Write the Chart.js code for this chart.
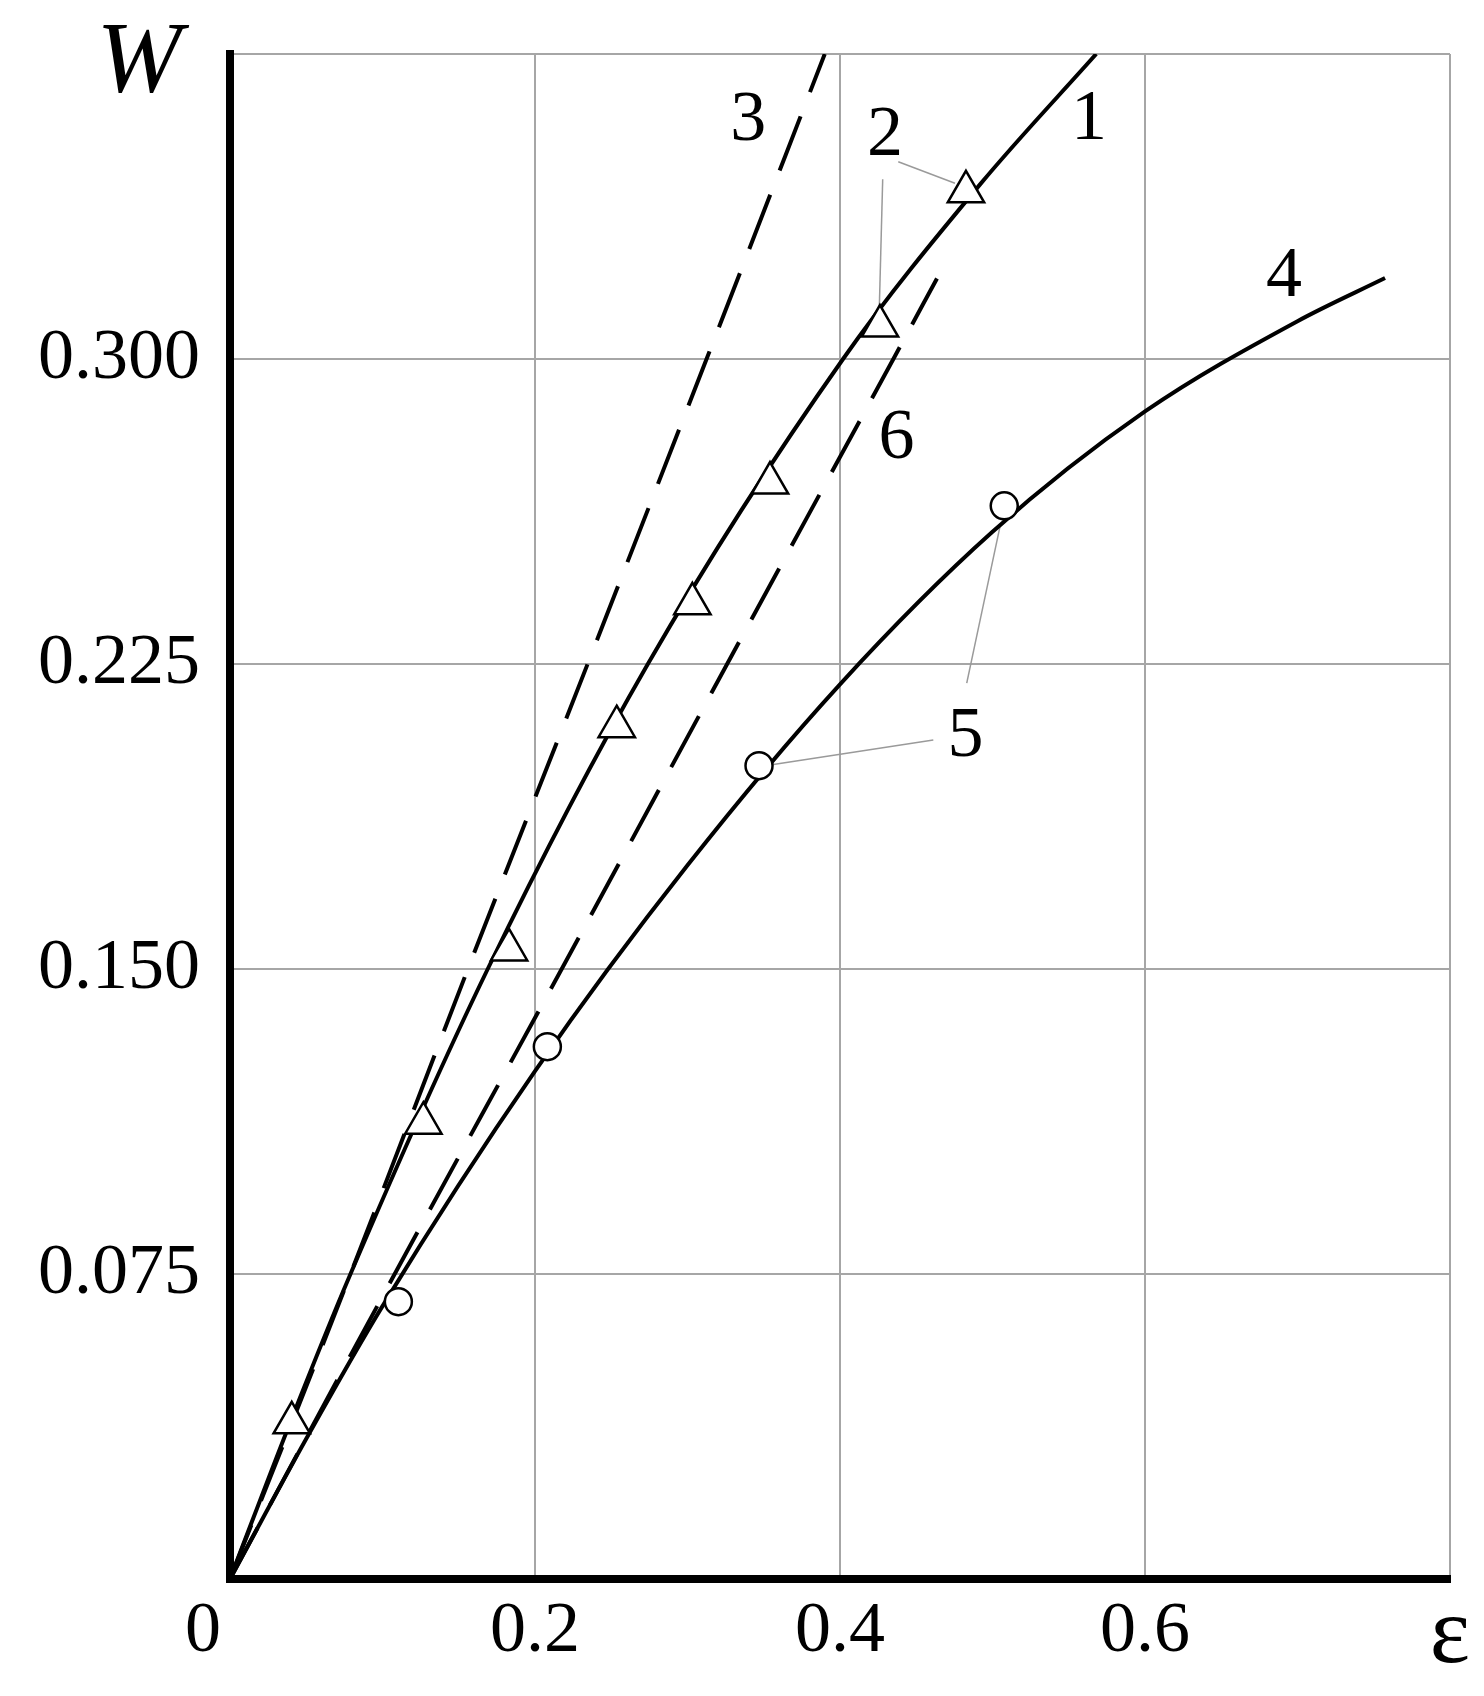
<!DOCTYPE html>
<html><head><meta charset="utf-8">
<script src="https://cdn.jsdelivr.net/npm/chart.js@4.4.1/dist/chart.umd.min.js"></script>
<style>html,body{margin:0;padding:0;background:#fff}canvas{display:block}</style>
</head><body>
<canvas id="c" width="1484" height="1696"></canvas>
<script>
// ---- axis ticks ----
const xTicks = [0, 0.2, 0.4, 0.6, 0.8];
const xTickLabels = ['0', '0.2', '0.4', '0.6', 'ε'];
const yTicks = [0, 0.075, 0.150, 0.225, 0.300, 0.375];
const yTickLabels = ['', '0.075', '0.150', '0.225', '0.300', ''];

// ---- curve 1 (solid) ----
const eps1 = [0, 0.040, 0.079, 0.169, 0.274, 0.402, 0.492, 0.568];
const W1   = [0, 0.039, 0.075, 0.150, 0.225, 0.300, 0.343, 0.375];
// ---- points 2 (triangles) ----
const eps2 = [0.0405, 0.1268, 0.183, 0.2536, 0.3032, 0.3541, 0.4262, 0.4826];
const W2   = [0.0384, 0.1121, 0.1547, 0.2096, 0.2398, 0.2695, 0.3081, 0.3411];
// ---- curve 3 (dashed) ----
const eps3 = [0, 0.079, 0.156, 0.2345, 0.3125, 0.390];
const W3   = [0, 0.075, 0.150, 0.225, 0.300, 0.375];
// ---- curve 4 (solid) ----
const eps4 = [0, 0.05, 0.1, 0.2, 0.3, 0.4, 0.5, 0.6, 0.7, 0.7574];
const W4   = [0, 0.0345, 0.0671, 0.1249, 0.1755, 0.2200, 0.2575, 0.2871, 0.3093, 0.3199];
// ---- points 5 (circles) ----
const eps5 = [0.1104, 0.2081, 0.3469, 0.5077];
const W5   = [0.0682, 0.1309, 0.2000, 0.2639];
// ---- curve 6 (dashed) ----
const eps6 = [0, 0.108, 0.2175, 0.326, 0.435, 0.4636];
const W6   = [0, 0.075, 0.150, 0.225, 0.300, 0.3198];

// ---- leader lines (label -> marker) ----
const leadA_eps = [0.4382, 0.4754], leadA_W = [0.3485, 0.3432];
const leadB_eps = [0.4280, 0.4258], leadB_W = [0.3442, 0.3129];
const leadC_eps = [0.4612, 0.3552], leadC_W = [0.2063, 0.2002];
const leadD_eps = [0.4831, 0.5049], leadD_W = [0.2203, 0.2588];

// ---- curve number labels ----
const labelText = ['1', '2', '3', '4', '5', '6'];
const labelEps  = [0.5633, 0.4295, 0.3399, 0.6911, 0.4823, 0.4370];
const labelW    = [0.3588, 0.3547, 0.3584, 0.3202, 0.2070, 0.2802];

const pts = (xs, ys) => xs.map((v, i) => ({x: v, y: ys[i]}));
const FAM = '"Liberation Serif", "Times New Roman", serif';

const solid = (xs, ys) => ({data: pts(xs, ys), showLine: true, borderColor: '#000', borderWidth: 4,
  pointRadius: 0, cubicInterpolationMode: 'monotone', fill: false, order: 1});
const dashed = (xs, ys) => Object.assign(solid(xs, ys), {borderDash: [58, 26]});
const leader = (xs, ys) => ({data: pts(xs, ys), showLine: true, borderColor: '#9a9a9a', borderWidth: 1.5,
  pointRadius: 0, fill: false, order: 2});

const annot = {
  id: 'annot',
  afterDatasetsDraw(chart) {
    const {ctx, chartArea, scales: {x, y}} = chart;
    ctx.save();
    ctx.fillStyle = '#000';
    ctx.font = '72px ' + FAM;
    ctx.textAlign = 'center';
    ctx.textBaseline = 'middle';
    labelText.forEach((t, i) => ctx.fillText(t, x.getPixelForValue(labelEps[i]), y.getPixelForValue(labelW[i])));
    ctx.font = 'italic 102px ' + FAM;
    ctx.textBaseline = 'alphabetic';
    ctx.fillText('W', chartArea.left - 91, chartArea.top + 38);
    ctx.restore();
  }
};

new Chart(document.getElementById('c'), {
  type: 'scatter',
  data: {
    datasets: [
      {data: pts(eps2, W2), pointStyle: 'triangle', pointRadius: 21, pointBackgroundColor: '#fff',
       pointBorderColor: '#000', pointBorderWidth: 2.5, showLine: false, order: 0},
      {data: pts(eps5, W5), pointStyle: 'circle', pointRadius: 13.5, pointBackgroundColor: '#fff',
       pointBorderColor: '#000', pointBorderWidth: 2.5, showLine: false, order: 0},
      solid(eps1, W1),
      dashed(eps3, W3),
      solid(eps4, W4),
      dashed(eps6, W6),
      leader(leadA_eps, leadA_W),
      leader(leadB_eps, leadB_W),
      leader(leadC_eps, leadC_W),
      leader(leadD_eps, leadD_W)
    ]
  },
  options: {
    responsive: false,
    animation: false,
    layout: {padding: {top: 54, right: 34, left: 0, bottom: 0}},
    plugins: {legend: {display: false}, tooltip: {enabled: false}},
    scales: {
      x: {
        type: 'linear', min: 0, max: 0.8,
        afterBuildTicks: s => { s.ticks = xTicks.map(v => ({value: v})); },
        afterFit: s => { s.height = 117; s.paddingLeft = 0; s.paddingRight = 0; },
        grid: {color: '#a6a6a6', lineWidth: 2, drawTicks: false},
        border: {color: '#000', width: 8},
        ticks: {
          padding: 10, color: '#000', maxRotation: 0, autoSkip: false,
          font: c => c.index === 4 ? {family: FAM, size: 96, lineHeight: 1.0} : {family: FAM, size: 72},
          callback: (v, i) => i === 0 ? xTickLabels[i] + '\u00a0\u00a0\u00a0' : xTickLabels[i]
        }
      },
      y: {
        type: 'linear', min: 0, max: 0.375,
        afterBuildTicks: s => { s.ticks = yTicks.map(v => ({value: v})); },
        afterFit: s => { s.width = 230; s.paddingTop = 0; s.paddingBottom = 0; },
        grid: {color: '#a6a6a6', lineWidth: 2, drawTicks: false},
        border: {color: '#000', width: 8},
        ticks: {padding: 30, color: '#000', autoSkip: false, font: {family: FAM, size: 72},
          callback: (v, i) => yTickLabels[i]}
      }
    }
  },
  plugins: [annot]
});
</script>
</body></html>
